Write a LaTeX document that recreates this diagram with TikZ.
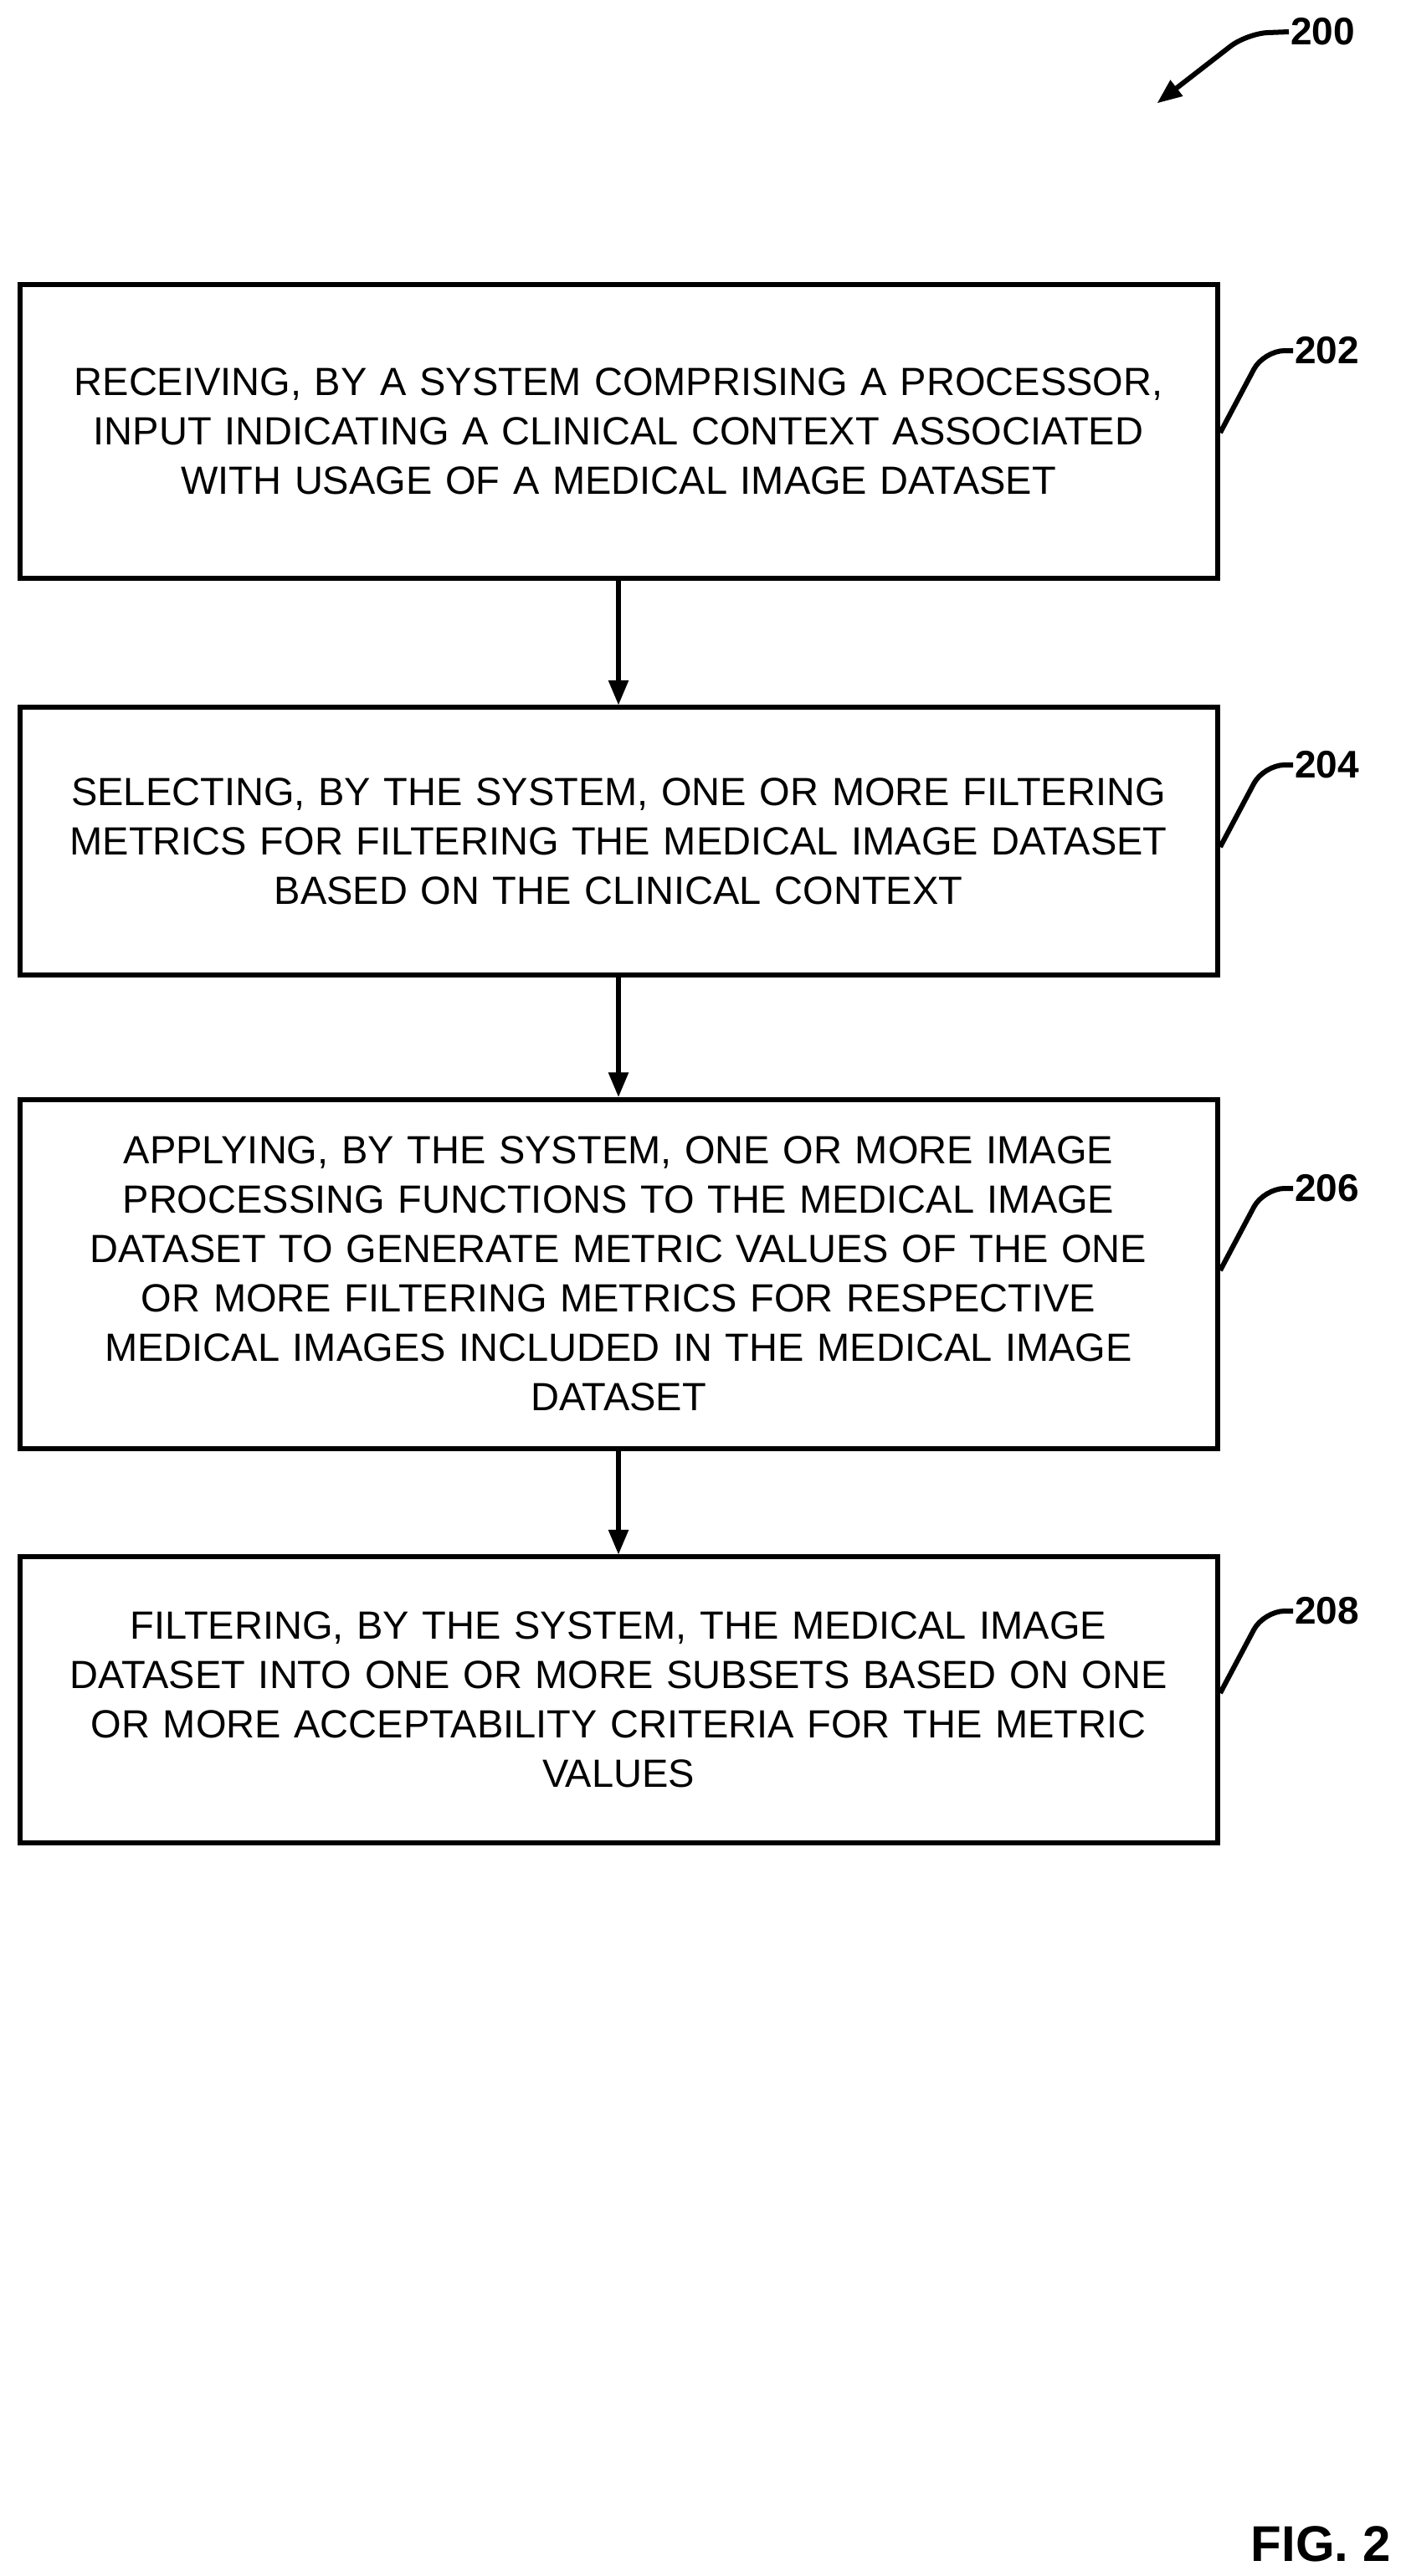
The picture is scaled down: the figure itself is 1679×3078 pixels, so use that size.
\documentclass[tikz,border=0pt]{standalone}
\usepackage{fontspec}
\setmainfont{Liberation Sans}
\usetikzlibrary{arrows}
\tikzstyle{process} = [rectangle,
minimum width=1431pt,
text width=1420pt,
align=center,
draw=black,
line width=6pt,
font=\fontsize{47}{59}\selectfont]
\tikzstyle{arrow} = [line width=6pt,-triangle 45]
\tikzstyle{hook} = [line width=6pt,rounded corners=25pt]
\tikzstyle{ref} = [font=\bfseries\fontsize{46}{50}\selectfont, anchor=west, inner sep=2pt]

\begin{document}
\begin{tikzpicture}[x=1pt,y=-1pt]
\useasboundingbox (0,0) rectangle (1679,3078);

\node (s202) [process, minimum height=351pt] at (739,515) {RECEIVING, BY A SYSTEM COMPRISING A PROCESSOR,\\ INPUT INDICATING A CLINICAL CONTEXT ASSOCIATED\\ WITH USAGE OF A MEDICAL IMAGE DATASET};
\node (s204) [process, minimum height=320pt] at (739,1005) {SELECTING, BY THE SYSTEM, ONE OR MORE FILTERING\\ METRICS FOR FILTERING THE MEDICAL IMAGE DATASET\\ BASED ON THE CLINICAL CONTEXT};
\node (s206) [process, minimum height=417pt] at (739,1522) {APPLYING, BY THE SYSTEM, ONE OR MORE IMAGE\\ PROCESSING FUNCTIONS TO THE MEDICAL IMAGE\\ DATASET TO GENERATE METRIC VALUES OF THE ONE\\ OR MORE FILTERING METRICS FOR RESPECTIVE\\ MEDICAL IMAGES INCLUDED IN THE MEDICAL IMAGE\\ DATASET};
\node (s208) [process, minimum height=342pt] at (739,2031) {FILTERING, BY THE SYSTEM, THE MEDICAL IMAGE\\ DATASET INTO ONE OR MORE SUBSETS BASED ON ONE\\ OR MORE ACCEPTABILITY CRITERIA FOR THE METRIC\\ VALUES};

\draw [arrow] (s202) -- (s204);
\draw [arrow] (s204) -- (s206);
\draw [arrow] (s206) -- (s208);

% reference numerals
\node (l200) [ref] at (1540,38) {200};
\node (l202) [ref] at (1545,419) {202};
\node (l204) [ref] at (1545,914) {204};
\node (l206) [ref] at (1545,1420) {206};
\node (l208) [ref] at (1545,1925) {208};
\node (fig) [font=\bfseries\fontsize{60}{66}\selectfont, anchor=east] at (1665,3040) {FIG. 2};

\draw [line width=6pt,-triangle 45,rounded corners=25pt] (l200.west) -- (1490,40) -- (1383,123);
\draw [hook] (l202.west) -- (1510,419) -- (1458,517);
\draw [hook] (l204.west) -- (1510,914) -- (1458,1012);
\draw [hook] (l206.west) -- (1510,1420) -- (1458,1518);
\draw [hook] (l208.west) -- (1510,1925) -- (1458,2023);

\end{tikzpicture}
\end{document}
